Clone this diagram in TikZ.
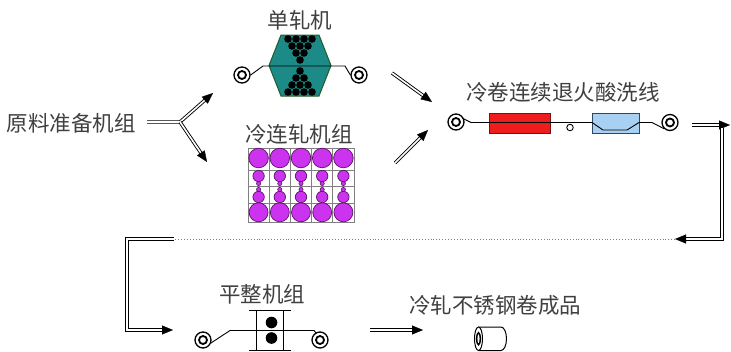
\documentclass[tikz,border=0pt]{standalone}
\usepackage{fontspec}
\newfontfamily\cjk{Noto Sans CJK SC}
\usetikzlibrary{arrows.meta}
\definecolor{txt}{HTML}{404040}
\definecolor{tealfill}{HTML}{1C8A87}
\definecolor{hexborder}{HTML}{1E5E2A}
\definecolor{mag}{HTML}{CC33EE}
\definecolor{magborder}{HTML}{5A1466}
\definecolor{furnace}{HTML}{EE1C1C}
\definecolor{furnaceborder}{HTML}{7A1010}
\definecolor{tank}{HTML}{A8D0F2}
\definecolor{tankborder}{HTML}{33475B}
\definecolor{gridgray}{HTML}{808080}
\tikzset{
  lbl/.style={font=\cjk\fontsize{21.5}{24}\selectfont, text=txt, inner sep=0pt},
  dbl/.style={draw=black, line width=0.9pt, double=white, double distance=1.6pt},
  dblarrow/.style={dbl, shorten >=6pt},
  tipline/.style={draw=white, line width=0.3pt, -{Triangle[length=11pt,width=9pt,color=black,fill=black]}},
  coilo/.style={circle, draw, line width=1.3pt, minimum size=16pt, inner sep=0pt, fill=white},
  coili/.style={circle, draw, line width=1.8pt, minimum size=8pt, inner sep=0pt},
  strip/.style={draw=black, line width=0.9pt},
  boxnode/.style={line width=0.9pt, inner sep=0pt, minimum height=20pt},
  standline/.style={draw=black, line width=0.9pt}
}
\begin{document}
\begin{tikzpicture}[x=1pt,y=-1pt]
\fill[white] (0,0) rectangle (731,351);
\useasboundingbox (0,0) rectangle (731,351);

% raw material
\node[lbl] (raw) at (71,123) {原料准备机组};
\coordinate (rawout) at (147,122);
\coordinate (split) at (180,122);
\coordinate (toSingle) at (213,93);
\coordinate (toCold) at (207,162);
\draw[dblarrow] (rawout) -- (split) -- (toSingle);
\draw[dblarrow] (split) -- (toCold);
\draw[tipline] (split) -- (toSingle);
\draw[tipline] (split) -- (toCold);

% single stand mill
\node[lbl] (singleLbl) at (300,20) {单轧机};
\draw[hexborder, fill=tealfill, line width=1pt] (281,35) -- (319,35) -- (331,65.5) -- (319,96) -- (281,96) -- (269,65.5) -- cycle;
\node[coilo] (sc1) at (242,75) {};
\node[coili] (sc1i) at (sc1) {};
\node[coilo] (sc2) at (359,75) {};
\node[coili] (sc2i) at (sc2) {};
\draw[strip] (sc1.east) -- (263,66) -- (345,66) -- (sc2.west);
\foreach \x in {288,296,304,312} {\fill (\x,39) circle[radius=3.8]; \fill (\x,92) circle[radius=3.8];}
\foreach \x in {292,300,308} {\fill (\x,46) circle[radius=3.8]; \fill (\x,85) circle[radius=3.8];}
\foreach \x in {296,304} {\fill (\x,53) circle[radius=3.8]; \fill (\x,78) circle[radius=3.8];}
\fill (300,60) circle[radius=3.8];
\fill (300,71) circle[radius=3.8];

% tandem cold mill
\node[lbl] (coldLbl) at (299,134) {冷连轧机组};
\draw[gridgray, line width=0.8pt, fill=white] (248,148) rectangle (354,222);
\foreach \x in {269.2,290.4,311.6,332.8} {\draw[gridgray, line width=0.7pt] (\x,148) -- (\x,222);}
\foreach \y in {170,186.5,203} {\draw[gridgray, line width=0.7pt] (248,\y) -- (354,\y);}
\foreach \x in {258.6,279.8,301,322.2,343.4} {
  \draw[magborder, fill=mag, line width=0.7pt] (\x,158) circle[radius=9.8];
  \draw[magborder, fill=mag, line width=0.7pt] (\x,212.3) circle[radius=9.5];
  \draw[magborder, fill=mag, line width=0.7pt] (\x,176) circle[radius=5.7];
  \draw[magborder, fill=mag, line width=0.7pt] (\x,197) circle[radius=5.7];
  \draw[magborder, fill=mag, line width=0.6pt] (\x,183.5) circle[radius=2.1];
  \draw[magborder, fill=mag, line width=0.6pt] (\x,189.5) circle[radius=2.1];
}

% arrows to annealing line
\coordinate (sa1) at (392,73);
\coordinate (sa2) at (432,102);
\coordinate (ca1) at (395,163);
\coordinate (ca2) at (428,130);
\draw[dblarrow] (sa1) -- (sa2);
\draw[tipline] (sa1) -- (sa2);
\draw[dblarrow] (ca1) -- (ca2);
\draw[tipline] (ca1) -- (ca2);

% annealing & pickling line
\node[lbl] (annLbl) at (563,92) {冷卷连续退火酸洗线};
\node[coilo] (ac1) at (456,122) {};
\node[coili] (ac1i) at (ac1) {};
\node[coilo] (ac2) at (670,122.5) {};
\node[coili] (ac2i) at (ac2) {};
\node[boxnode, draw=furnaceborder, fill=furnace, minimum width=61pt] (furn) at (519.5,123) {};
\node[boxnode, draw=tankborder, fill=tank, minimum width=47pt] (tankbox) at (615.5,123) {};
\draw[strip] (463,118.5) -- (471,122.5) -- (592,122.5) -- (603,130) -- (627,130) -- (639,122.5) -- (652,122.5) -- (ac2.south west);
\node[circle, draw, line width=0.9pt, fill=white, minimum size=6.5pt, inner sep=0pt] (looper) at (570,127.5) {};

% return path
\coordinate (ar1) at (692,125);
\coordinate (ar2) at (730,125);
\draw[dblarrow] (ar1) -- (ar2);
\draw[tipline] (ar1) -- (ar2);
\coordinate (rt) at (722,128);
\coordinate (rb) at (722,239);
\coordinate (rl) at (675,239);
\draw[dblarrow] (rt) -- (rb) -- (rl);
\draw[tipline] (rb) -- (rl);
\coordinate (lt) at (174,239);
\draw[gridgray, line width=0.9pt, dotted] (rl) -- (lt);
\coordinate (lc) at (127,239);
\coordinate (lb) at (127,330);
\coordinate (le) at (173,330);
\draw[dblarrow] (lt) -- (lc) -- (lb) -- (le);
\draw[tipline] (lb) -- (le);

% temper mill
\node[lbl] (temperLbl) at (262,294) {平整机组};
\node[coilo] (tc1) at (203,340) {};
\node[coili] (tc1i) at (tc1) {};
\node[coilo] (tc2) at (320,340) {};
\node[coili] (tc2i) at (tc2) {};
\draw[strip] (211,343) -- (230,330.5) -- (314,330.5) -- (316,333);
\draw[standline] (249,310) -- (291,310);
\draw[standline] (249,350) -- (291,350);
\draw[standline] (256,310) -- (256,351);
\draw[standline] (283.5,310) -- (283.5,351);
\fill (271.5,322.5) circle[radius=5.8];
\fill (271.5,338) circle[radius=5.8];

% to product
\coordinate (pa1) at (370,330);
\coordinate (pa2) at (423,330);
\draw[dblarrow] (pa1) -- (pa2);
\draw[tipline] (pa1) -- (pa2);
\node[lbl] (prodLbl) at (495,305) {冷轧不锈钢卷成品};
\draw[line width=1pt, fill=white] (478.5,327) -- (501,327) arc[start angle=-90, end angle=90, x radius=5.5, y radius=11.75] -- (478.5,350.5);
\draw[line width=1pt, fill=white] (478.5,338.75) ellipse[x radius=4, y radius=11.75];
\draw[line width=1.5pt] (478.5,338.75) ellipse[x radius=1.8, y radius=6];
\end{tikzpicture}
\end{document}
